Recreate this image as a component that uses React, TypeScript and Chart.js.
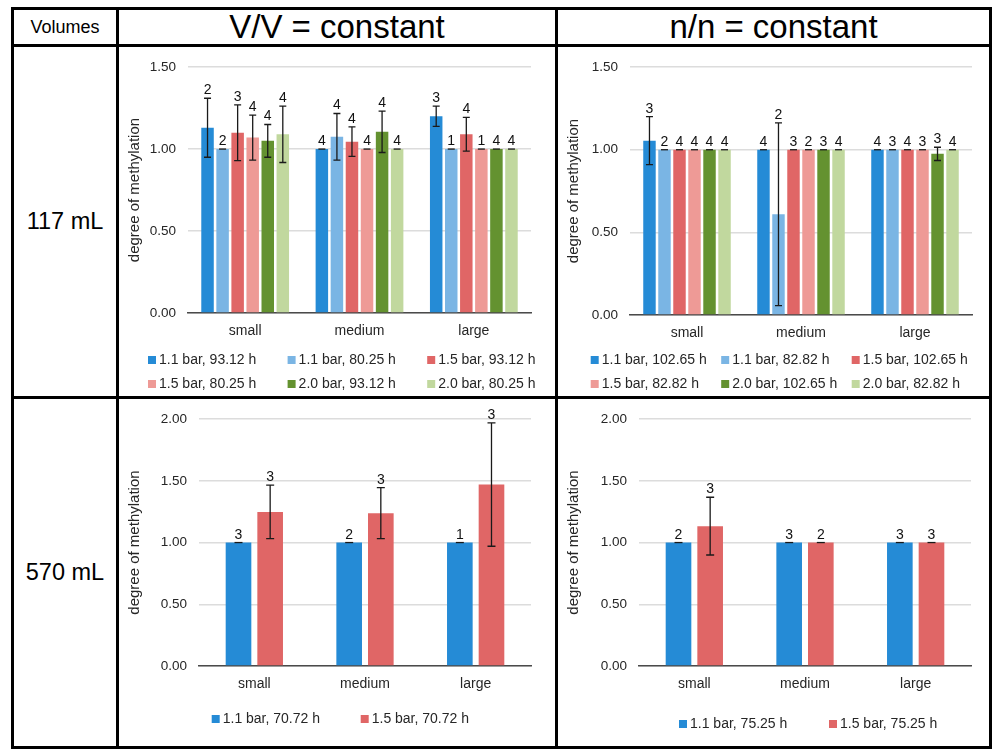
import React, { useEffect, useRef } from 'react';
import { Chart, registerables } from 'chart.js';

Chart.register(...registerables);

const FONT = "'Liberation Sans', Arial, Helvetica, sans-serif";
const TEXT = '#262626';

// ---------- data ----------
const categories = ['small', 'medium', 'large'];
const yTicksTop = [0, 0.5, 1.0, 1.5];
const yTicksBottom = [0, 0.5, 1.0, 1.5, 2.0];

const colorsSix = ['#258BD6', '#7AB5E4', '#E06666', '#EE9A96', '#649230', '#C1D89E'];
const colorsTwo = ['#258BD6', '#E06666'];

// 117 mL, V/V = constant
const vv117Labels = ['1.1 bar, 93.12 h', '1.1 bar, 80.25 h', '1.5 bar, 93.12 h', '1.5 bar, 80.25 h', '2.0 bar, 93.12 h', '2.0 bar, 80.25 h'];
const vv117Values = [
  [1.13, 1.0, 1.2],
  [1.0, 1.075, 1.0],
  [1.1, 1.045, 1.09],
  [1.07, 1.0, 1.0],
  [1.05, 1.105, 1.0],
  [1.09, 1.0, 1.0],
];
const vv117Errors = [
  [0.18, 0, 0.062],
  [0, 0.142, 0],
  [0.17, 0.09, 0.103],
  [0.137, 0, 0],
  [0.1, 0.126, 0],
  [0.172, 0, 0],
];
const vv117Counts = [
  [2, 4, 3],
  [2, 4, 1],
  [3, 4, 4],
  [4, 4, 1],
  [4, 4, 4],
  [4, 4, 4],
];

// 117 mL, n/n = constant
const nn117Labels = ['1.1 bar, 102.65 h', '1.1 bar, 82.82 h', '1.5 bar, 102.65 h', '1.5 bar, 82.82 h', '2.0 bar, 102.65 h', '2.0 bar, 82.82 h'];
const nn117Values = [
  [1.055, 1.0, 1.0],
  [1.0, 0.61, 1.0],
  [1.0, 1.0, 1.0],
  [1.0, 1.0, 1.0],
  [1.0, 1.0, 0.975],
  [1.0, 1.0, 1.0],
];
const nn117Errors = [
  [0.145, 0, 0],
  [0, 0.553, 0],
  [0, 0, 0],
  [0, 0, 0],
  [0, 0, 0.04],
  [0, 0, 0],
];
const nn117Counts = [
  [3, 4, 4],
  [2, 2, 3],
  [4, 3, 4],
  [4, 2, 3],
  [4, 3, 3],
  [4, 4, 4],
];

// 570 mL, V/V = constant
const vv570Labels = ['1.1 bar, 70.72 h', '1.5 bar, 70.72 h'];
const vv570Values = [
  [1.0, 1.0, 1.0],
  [1.248, 1.238, 1.47],
];
const vv570Errors = [
  [0, 0, 0],
  [0.217, 0.207, 0.5],
];
const vv570Counts = [
  [3, 2, 1],
  [3, 3, 3],
];

// 570 mL, n/n = constant
const nn570Labels = ['1.1 bar, 75.25 h', '1.5 bar, 75.25 h'];
const nn570Values = [
  [1.0, 1.0, 1.0],
  [1.133, 1.0, 1.0],
];
const nn570Errors = [
  [0, 0, 0],
  [0.234, 0, 0],
];
const nn570Counts = [
  [2, 3, 3],
  [3, 2, 3],
];

// ---------- plugins ----------
const errorBarPlugin = {
  id: 'errorBarsN',
  afterDatasetsDraw(chart: any, _args: any, opts: any) {
    const { ctx } = chart;
    const ys = chart.scales.y;
    const cap = opts.cap ?? 3.5;
    chart.data.datasets.forEach((ds: any, di: number) => {
      const meta = chart.getDatasetMeta(di);
      meta.data.forEach((el: any, i: number) => {
        const v = ds.data[i];
        const e = ds.errors[i];
        const x = el.x;
        const yHi = ys.getPixelForValue(v + e);
        const yLo = ys.getPixelForValue(v - e);
        ctx.save();
        ctx.strokeStyle = '#1a1a1a';
        ctx.lineWidth = 1.3;
        ctx.beginPath();
        if (e > 0) {
          ctx.moveTo(x, yHi);
          ctx.lineTo(x, yLo);
          ctx.moveTo(x - cap, yLo);
          ctx.lineTo(x + cap, yLo);
        }
        ctx.moveTo(x - cap, yHi);
        ctx.lineTo(x + cap, yHi);
        ctx.stroke();
        ctx.fillStyle = '#111';
        ctx.font = `14px ${FONT}`;
        ctx.textAlign = 'center';
        ctx.textBaseline = 'alphabetic';
        ctx.fillText(String(ds.counts[i]), x, yHi - 4);
        ctx.restore();
      });
    });
  },
};

const gridLegendPlugin = {
  id: 'gridLegend',
  afterDraw(chart: any, _args: any, opts: any) {
    const { ctx } = chart;
    ctx.save();
    ctx.font = `14px ${FONT}`;
    ctx.textAlign = 'left';
    ctx.textBaseline = 'middle';
    chart.data.datasets.forEach((ds: any, i: number) => {
      const col = i % opts.cols;
      const row = Math.floor(i / opts.cols);
      const x = opts.x + col * opts.pitch;
      const y = opts.rows[row];
      ctx.fillStyle = ds.backgroundColor;
      ctx.fillRect(x, y - 4, 8, 8);
      ctx.fillStyle = TEXT;
      ctx.fillText(ds.label, x + 11, y + 0.5);
    });
    ctx.restore();
  },
};

// ---------- panel ----------
type PanelSpec = {
  left: number;
  top: number;
  width: number;
  height: number;
  plot: { l: number; r: number; t: number; b: number };
  labels: string[];
  values: number[][];
  errors: number[][];
  counts: number[][];
  colors: string[];
  yTicks: number[];
  catPct: number;
  barPct: number;
  cap: number;
  legend: { x: number; pitch: number; cols: number; rows: number[] };
};

const X_AXIS_H = 32;

function Panel({ spec }: { spec: PanelSpec }) {
  const ref = useRef<HTMLCanvasElement | null>(null);
  useEffect(() => {
    if (!ref.current) return;
    const s = spec;
    const chart = new Chart(ref.current, {
      type: 'bar',
      data: {
        labels: categories,
        datasets: s.labels.map((label, i) => ({
          label,
          data: s.values[i],
          errors: s.errors[i],
          counts: s.counts[i],
          backgroundColor: s.colors[i],
          borderWidth: 0,
          categoryPercentage: s.catPct,
          barPercentage: s.barPct,
        })) as any,
      },
      options: {
        responsive: false,
        animation: false,
        layout: {
          padding: {
            left: 0,
            top: s.plot.t,
            right: s.width - s.plot.r,
            bottom: s.height - s.plot.b - X_AXIS_H,
          },
        },
        plugins: {
          legend: { display: false },
          tooltip: { enabled: false },
          errorBarsN: { cap: s.cap },
          gridLegend: s.legend,
        } as any,
        scales: {
          x: {
            grid: { display: false },
            border: { display: true, color: '#4a4a4a', width: 1.5 },
            ticks: { color: TEXT, font: { family: FONT, size: 14 }, padding: 2 },
            afterFit: (scale: any) => {
              scale.height = X_AXIS_H;
            },
          },
          y: {
            min: s.yTicks[0],
            max: s.yTicks[s.yTicks.length - 1],
            afterBuildTicks: (scale: any) => {
              scale.ticks = s.yTicks.map((v) => ({ value: v }));
            },
            afterFit: (scale: any) => {
              scale.width = s.plot.l;
            },
            grid: { color: '#dcdcdc', lineWidth: 1.5, drawTicks: false },
            border: { display: false },
            ticks: {
              color: TEXT,
              font: { family: FONT, size: 13.5 },
              padding: 12,
              callback: (v: any) => Number(v).toFixed(2),
            },
            title: {
              display: true,
              text: 'degree of methylation',
              color: TEXT,
              font: { family: FONT, size: 15 },
              padding: { top: 7, bottom: 0 },
            },
          },
        },
      },
      plugins: [errorBarPlugin, gridLegendPlugin],
    });
    return () => chart.destroy();
  }, [spec]);
  return (
    <canvas
      ref={ref}
      width={spec.width}
      height={spec.height}
      style={{ position: 'absolute', left: spec.left, top: spec.top, width: spec.width, height: spec.height }}
    />
  );
}

const panels: PanelSpec[] = [
  {
    left: 119, top: 47, width: 436, height: 349,
    plot: { l: 69, r: 412, t: 18, b: 266 },
    labels: vv117Labels, values: vv117Values, errors: vv117Errors, counts: vv117Counts,
    colors: colorsSix, yTicks: yTicksTop, catPct: 0.79, barPct: 0.83, cap: 3.5,
    legend: { x: 29, pitch: 139.6, cols: 3, rows: [313, 337] },
  },
  {
    left: 558, top: 47, width: 431, height: 349,
    plot: { l: 72, r: 414, t: 18.7, b: 268 },
    labels: nn117Labels, values: nn117Values, errors: nn117Errors, counts: nn117Counts,
    colors: colorsSix, yTicks: yTicksTop, catPct: 0.79, barPct: 0.83, cap: 3.5,
    legend: { x: 32.7, pitch: 130.5, cols: 3, rows: [313, 337] },
  },
  {
    left: 119, top: 399, width: 436, height: 347,
    plot: { l: 80, r: 412, t: 17.7, b: 267 },
    labels: vv570Labels, values: vv570Values, errors: vv570Errors, counts: vv570Counts,
    colors: colorsTwo, yTicks: yTicksBottom, catPct: 0.572, barPct: 0.81, cap: 4,
    legend: { x: 92.7, pitch: 149, cols: 2, rows: [320] },
  },
  {
    left: 558, top: 399, width: 431, height: 347,
    plot: { l: 81, r: 413, t: 18, b: 267 },
    labels: nn570Labels, values: nn570Values, errors: nn570Errors, counts: nn570Counts,
    colors: colorsTwo, yTicks: yTicksBottom, catPct: 0.572, barPct: 0.81, cap: 4,
    legend: { x: 121, pitch: 150, cols: 2, rows: [325] },
  },
];

const line = (left: number, top: number, width: number, height: number): React.CSSProperties => ({
  position: 'absolute', left, top, width, height, background: '#000',
});

const cell = (left: number, top: number, width: number, height: number, size: number): React.CSSProperties => ({
  position: 'absolute', left, top, width, height, display: 'flex', alignItems: 'center',
  justifyContent: 'center', fontFamily: FONT, fontSize: size, color: '#000', whiteSpace: 'nowrap',
});

export default function App() {
  return (
    <div style={{ position: 'absolute', left: 0, top: 0, width: 994, height: 749, background: '#fff', overflow: 'hidden' }}>
      <div style={cell(14, 10, 102, 34, 18)}>Volumes</div>
      <div style={cell(119, 10, 436, 34, 33)}>V/V = constant</div>
      <div style={cell(558, 10, 431, 34, 33)}>n/n = constant</div>
      <div style={cell(14, 47, 102, 349, 23.5)}>117 mL</div>
      <div style={cell(14, 399, 102, 347, 23.5)}>570 mL</div>
      {panels.map((p, i) => (
        <Panel key={i} spec={p} />
      ))}
      <div style={line(11, 7, 981, 3)} />
      <div style={line(11, 44, 981, 3)} />
      <div style={line(11, 396, 981, 3)} />
      <div style={line(11, 746, 981, 3)} />
      <div style={line(11, 7, 3, 742)} />
      <div style={line(116, 7, 3, 742)} />
      <div style={line(555, 7, 3, 742)} />
      <div style={line(989, 7, 3, 742)} />
    </div>
  );
}
